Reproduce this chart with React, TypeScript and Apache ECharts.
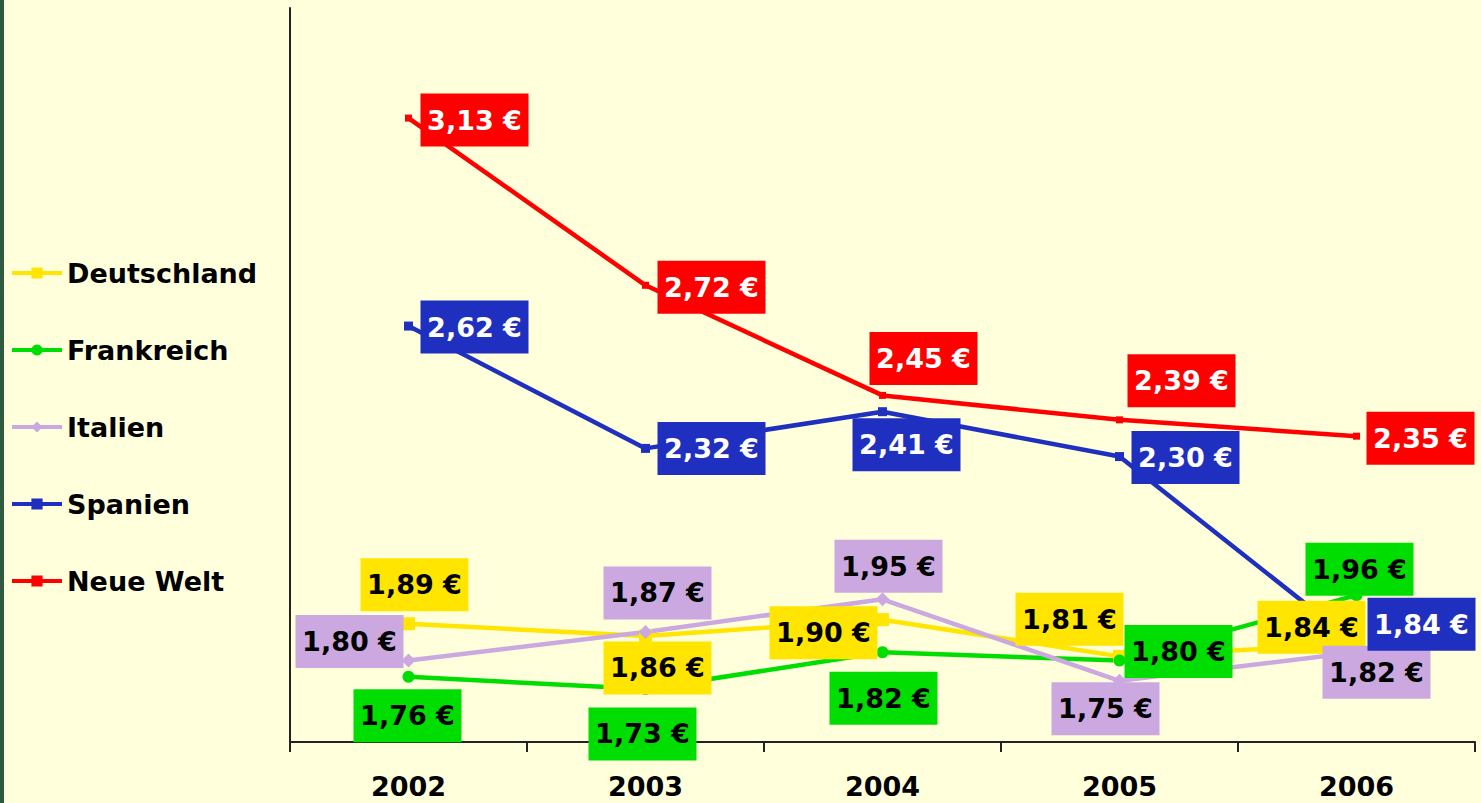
import React, { useEffect, useRef } from "react";
import * as echarts from "echarts";

const years = ["2002", "2003", "2004", "2005", "2006"];
const deutschland = [1.89, 1.86, 1.9, 1.81, 1.84];
const frankreich = [1.76, 1.73, 1.82, 1.8, 1.96];
const italien = [1.8, 1.87, 1.95, 1.75, 1.82];
const spanien = [2.62, 2.32, 2.41, 2.3, 1.84];
const neueWelt = [3.13, 2.72, 2.45, 2.39, 2.35];

// label placement offsets (pixels) relative to each point
const offDeutschland = [[6, -39], [12, 32], [-59, 13], [-50, -37], [-45, -17]];
const offFrankreich = [[-1, 39], [-3, 45], [1, 46], [59, -9], [3, -26]];
const offItalien = [[-59, -19], [12, -39], [6, -33], [-14, 28], [20, 20]];
const offSpanien = [[66, 1], [66, 0], [24, 33], [66, 1], [65, -20]];
const offNeueWelt = [[66, 2], [66, 2], [41, -37], [62, -39], [64, 2]];

const FONT = "'DejaVu Sans', Verdana, sans-serif";

function fmt(v: number) {
  return v.toFixed(2).replace(".", ",") + " €";
}

function makeSeries(
  name: string,
  values: number[],
  offsets: number[][],
  color: string,
  textColor: string,
  symbol: string,
  symbolSize: number
) {
  return {
    name,
    type: "line",
    symbol,
    symbolSize,
    showAllSymbol: true,
    lineStyle: { color, width: 4.5 },
    itemStyle: { color },
    data: values.map((v, i) => ({
      value: v,
      label: { offset: offsets[i] },
    })),
    label: {
      show: true,
      position: "inside",
      formatter: (p: any) => fmt(p.value),
      backgroundColor: color,
      color: textColor,
      fontFamily: FONT,
      fontWeight: "bold",
      fontSize: 27,
      lineHeight: 29,
      width: 100,
      overflow: "none",
      align: "center",
      verticalAlign: "middle",
      padding: [12, 4, 12, 4],
    },
    z: 3,
  };
}

export default function App() {
  const ref = useRef<HTMLDivElement>(null);
  useEffect(() => {
    if (!ref.current) return;
    const chart = echarts.init(ref.current, undefined, { renderer: "svg" });
    chart.setOption({
      animation: false,
      backgroundColor: "#FFFFDC",
      graphic: [
        {
          type: "rect",
          shape: { x: 0, y: 0, width: 4, height: 803 },
          style: { fill: "#2f5a3e" },
        },
      ],
      legend: {
        orient: "vertical",
        left: 5,
        top: 252,
        itemGap: 45,
        itemWidth: 50,
        itemHeight: 14,
        lineStyle: { width: 4 },
        textStyle: {
          fontFamily: FONT,
          fontWeight: "bold",
          fontSize: 27,
          lineHeight: 32,
          color: "#000",
        },
        data: ["Deutschland", "Frankreich", "Italien", "Spanien", "Neue Welt"],
      },
      grid: { left: 290, right: 6, top: 8, bottom: 61 },
      xAxis: {
        type: "category",
        data: years,
        boundaryGap: true,
        axisLine: { show: true, lineStyle: { color: "#222", width: 2 } },
        axisTick: { show: true, length: 10, lineStyle: { color: "#222", width: 2 } },
        axisLabel: {
          fontFamily: FONT,
          fontWeight: "bold",
          fontSize: 27,
          lineHeight: 32,
          color: "#000",
          margin: 28,
        },
        splitLine: { show: false },
      },
      yAxis: {
        type: "value",
        min: 1.6,
        max: 3.4,
        axisLine: { show: true, lineStyle: { color: "#222", width: 2 } },
        axisTick: { show: false },
        axisLabel: { show: false },
        splitLine: { show: false },
      },
      series: [
        makeSeries("Deutschland", deutschland, offDeutschland, "#FFE500", "#000", "rect", 13),
        makeSeries("Frankreich", frankreich, offFrankreich, "#00DD00", "#000", "circle", 12),
        makeSeries("Italien", italien, offItalien, "#CCA8E0", "#000", "diamond", 14),
        makeSeries("Spanien", spanien, offSpanien, "#1F2FBF", "#fff", "rect", 9),
        makeSeries("Neue Welt", neueWelt, offNeueWelt, "#FF0000", "#fff", "rect", 7),
      ],
    });
    return () => chart.dispose();
  }, []);
  return (
    <div
      ref={ref}
      style={{ position: "fixed", left: 0, top: 0, width: 1481, height: 803 }}
    />
  );
}
